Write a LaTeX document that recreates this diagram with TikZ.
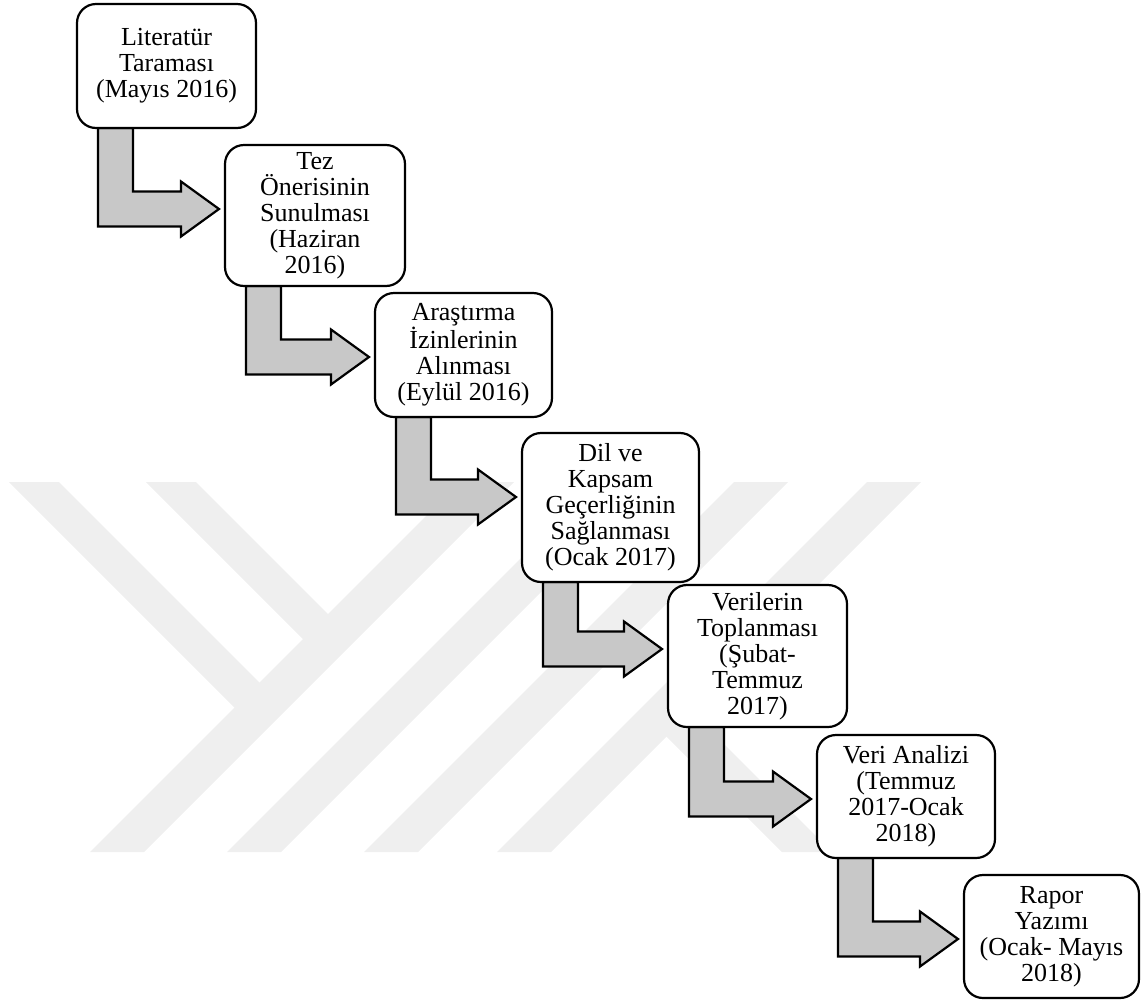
\documentclass[tikz,border=0pt]{standalone}
\usepackage{fontspec}
\setmainfont{Liberation Serif}
\usetikzlibrary{calc}
\pgfdeclarelayer{wm}
\pgfdeclarelayer{bg}
\pgfsetlayers{wm,bg,main}
\definecolor{wmgray}{RGB}{239,239,239}
\definecolor{arrowgray}{RGB}{200,200,200}
\newcommand\stagearrow[2]{%
  \draw[arrowbody] let \p1=(#1.south west), \p2=(#2.north west) in
    (\x1+21pt,\y1) -- (\x1+56pt,\y1) -- (\x1+56pt,\y2-46.5pt) -- (\x2-44pt,\y2-46.5pt)
    -- (\x2-44pt,\y2-36.5pt) -- (\x2-6pt,\y2-64pt) -- (\x2-44pt,\y2-91.5pt)
    -- (\x2-44pt,\y2-81.5pt) -- (\x1+21pt,\y2-81.5pt) -- cycle;}
\begin{document}
\begin{tikzpicture}[x=1pt,y=-1pt,
  stage/.style={draw, line width=2.2pt, fill=white, rounded corners=19pt, align=center,
    inner sep=0pt, outer sep=0pt, font=\fontsize{26}{26}\selectfont},
  arrowbody/.style={draw, line width=2.2pt, fill=arrowgray, line join=miter},
  wmark/.style={fill=wmgray}]
\useasboundingbox (0,0) rectangle (1141,1002);

% boxes
\node[stage, minimum width=179pt, minimum height=124pt] (s1) at (166.5,66) {Literatür\\Taraması\\(Mayıs 2016)};
\node[stage, minimum width=180pt, minimum height=141pt] (s2) at (315,215.5) {Tez\\Önerisinin\\Sunulması\\(Haziran\\2016)};
\node[stage, minimum width=177pt, minimum height=124pt] (s3) at (463.5,355) {Araştırma\\İzinlerinin\\Alınması\\(Eylül 2016)};
\node[stage, minimum width=177pt, minimum height=149pt] (s4) at (610.5,507.5) {Dil ve\\Kapsam\\Geçerliğinin\\Sağlanması\\(Ocak 2017)};
\node[stage, minimum width=179pt, minimum height=142pt] (s5) at (757.5,656) {Verilerin\\Toplanması\\(Şubat-\\Temmuz\\2017)};
\node[stage, minimum width=178pt, minimum height=123pt] (s6) at (906,796.5) {Veri Analizi\\(Temmuz\\2017-Ocak\\2018)};
\node[stage, minimum width=175pt, minimum height=123pt] (s7) at (1051.5,936.5) {Rapor\\Yazımı\\(Ocak- Mayıs\\2018)};

% bent block arrows
\begin{pgfonlayer}{bg}
\stagearrow{s1}{s2}
\stagearrow{s2}{s3}
\stagearrow{s3}{s4}
\stagearrow{s4}{s5}
\stagearrow{s5}{s6}
\stagearrow{s6}{s7}
\end{pgfonlayer}

% faint watermark
\begin{pgfonlayer}{wm}
\fill[wmark] (9,482) -- (59,482) -- (263.5,686.5) -- (238.5,711.5) -- cycle;
\fill[wmark] (146,482) -- (196,482) -- (332,618) -- (307,643) -- cycle;
\fill[wmark] (90,852) -- (144,852) -- (514,482) -- (460,482) -- cycle;
\fill[wmark] (227,852) -- (281,852) -- (651,482) -- (597,482) -- cycle;
\fill[wmark] (364,852) -- (418,852) -- (788,482) -- (734,482) -- cycle;
\fill[wmark] (497,852) -- (551,852) -- (921,482) -- (867,482) -- cycle;
\fill[wmark] (662.5,732.5) -- (687.5,707.5) -- (832,852) -- (782,852) -- cycle;
\end{pgfonlayer}
\end{tikzpicture}
\end{document}
